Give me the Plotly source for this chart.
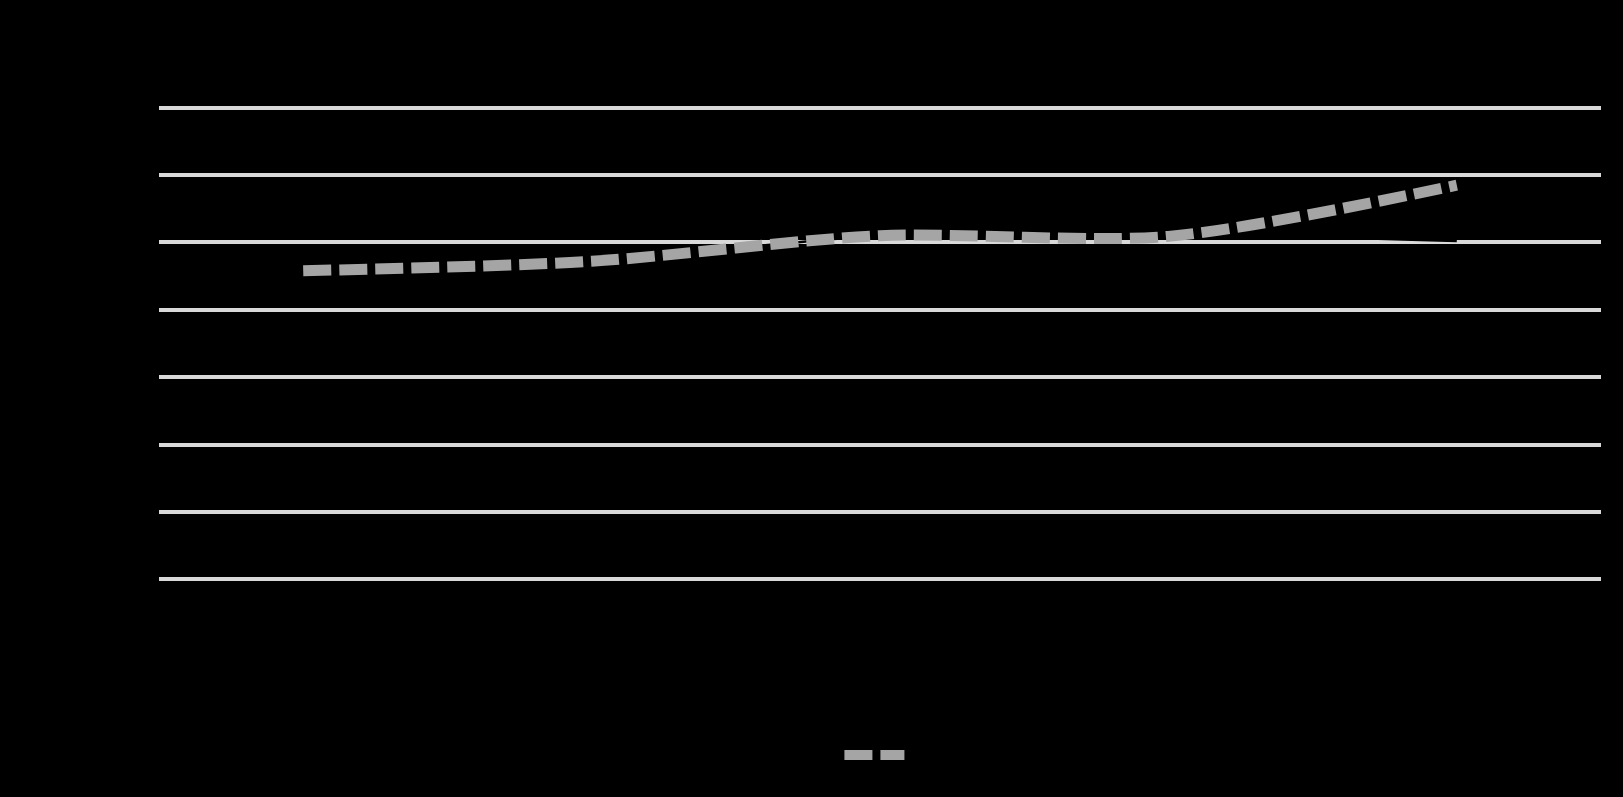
import plotly.graph_objects as go

categories = ["2019", "2020", "2021", "2022", "2023"]
series_dark = [45.8, 47.2, 51.0, 51.3, 50.2]
series_gray = [45.8, 47.2, 51.0, 50.9, 58.5]
series_names = ["Series 1", "Series 2"]
y_ticks = [0, 10, 20, 30, 40, 50, 60, 70]

fig = go.Figure()
fig.add_trace(go.Scatter(
    x=categories, y=series_dark, name=series_names[0], mode="lines",
    line=dict(color="#000000", width=2.5, shape="spline", smoothing=0.8),
))
fig.add_trace(go.Scatter(
    x=categories, y=series_gray, name=series_names[1], mode="lines",
    line=dict(color="#a5a5a5", width=11, dash="28px,8px", shape="spline", smoothing=0.8),
))

fig.update_layout(
    width=1623, height=797,
    paper_bgcolor="#000000", plot_bgcolor="#000000",
    font=dict(family="Liberation Sans, Arial", size=16, color="#000000"),
    title=dict(text="Chart Title", x=0.5, xanchor="center", y=0.95,
               font=dict(size=24, color="#000000")),
    margin=dict(l=159, r=22, t=105, b=215),
    showlegend=True,
    legend=dict(orientation="h", x=0.472, xanchor="center", y=-0.363, yanchor="middle",
                itemwidth=60,
                font=dict(size=16, color="#000000"), bgcolor="rgba(0,0,0,0)"),
    xaxis=dict(type="category", range=[-0.5, 4.5], showgrid=False, zeroline=False,
               showline=False, ticks="", tickfont=dict(color="#000000", size=16)),
    yaxis=dict(range=[-0.4, 70.4], tickvals=y_ticks, showgrid=True, gridcolor="#d9d9d9",
               gridwidth=3.5, zeroline=False, showline=False, ticks="",
               tickfont=dict(color="#000000", size=16)),
)

fig.write_html(
    "out.html",
    config={"displayModeBar": False},
    post_script="document.body.style.margin='0';document.body.style.background='#000000';"
                "document.documentElement.style.background='#000000';",
)
